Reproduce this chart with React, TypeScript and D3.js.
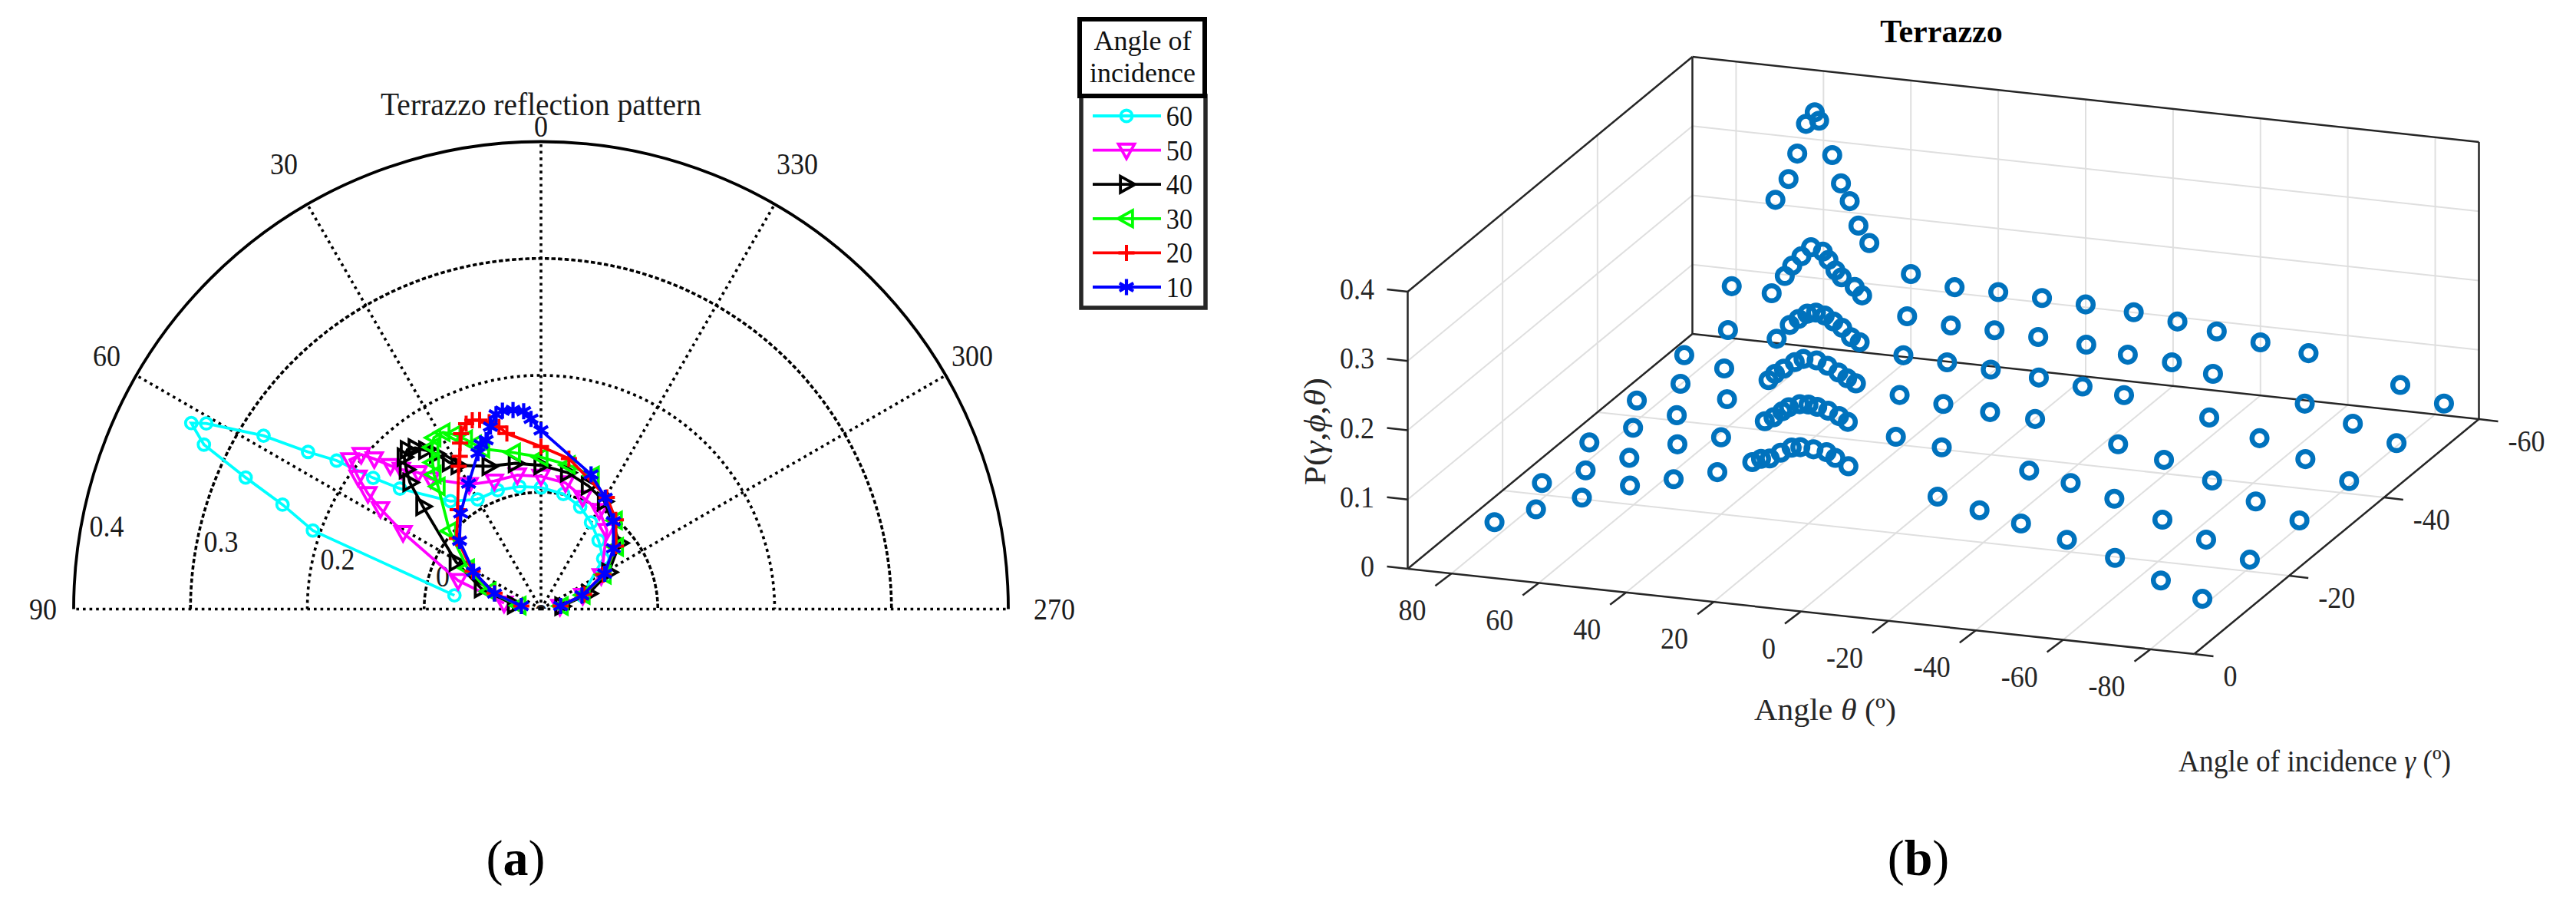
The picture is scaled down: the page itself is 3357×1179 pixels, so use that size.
import React from "react";
import * as d3 from "d3";

// ---- Data: reflection angle (deg) and P for each angle of incidence
const angles60 = [81,71,68,66,64,62,61,58,56,54,52,49.5,40,30,20,10,0,-11,-21,-30,-40,-51,-72,-82];
const values60 = [.075,.2065,.2386,.2767,.321,.339,.3276,.28,.2405,.2162,.1823,.1588,.1206,.1084,.1082,.1065,.104,.1003,.0937,.0856,.0767,.0685,.037,.017];
const angles50 = [81,71,61,58,56.3,54.2,52,49.3,48,46.4,45,42,40.3,30,20,10,0,-11,-20.5,-30.6,-40,-61,-72,-82];
const values50 = [.032,.075,.135,.162,.178,.193,.2075,.203,.192,.178,.169,.157,.146,.123,.1166,.1165,.1136,.11,.102,.098,.0878,.059,.0376,.0164];
const angles40 = [81,71,61,49,46,44,42,40,38,36,34,32,30,20,10,0,-11,-21,-30.5,-50,-61.5,-72,-82];
const values40 = [.023,.054,.083,.134,.156,.166,.175,.178,.175,.168,.16,.148,.142,.13,.1267,.123,.119,.113,.107,.088,.066,.043,.018];
const angles30 = [81,71,61,49.5,40,38.5,36.5,34,32,29,26.5,24,22,20,10,0,-10.7,-21,-40,-50.5,-61.5,-71.5,-81.5];
const values30 = [.019,.047,.072,.103,.137,.147,.156,.167,.173,.173,.167,.159,.152,.146,.136,.13,.1255,.1225,.099,.0837,.0615,.038,.0175];
const angles20 = [81,71,61,50,40,30,28,26,24.5,22,20,18,15.5,13,11,0,-10.5,-30.5,-40,-50,-61,-71,-81];
const values20 = [.017,.042,.067,.094,.111,.141,.148,.158,.165,.171,.172,.17,.166,.16,.153,.139,.131,.111,.0997,.0837,.061,.039,.017];
const angles10 = [81,71.5,61,50,40,30,22,20,18,15.5,13,11,8,5,3,0,-20.4,-30,-39.5,-50,-61,-71.5,-81];
const values10 = [.017,.042,.066,.091,.107,.124,.144,.15,.152,.162,.171,.173,.172,.17,.163,.153,.123,.11,.0974,.081,.0624,.037,.017];

const incidences = [60, 50, 40, 30, 20, 10];
const angleSets = [angles60, angles50, angles40, angles30, angles20, angles10];
const valueSets = [values60, values50, values40, values30, values20, values10];
const seriesColors = ["#00ffff", "#ff00ff", "#000000", "#00ff00", "#ff0000", "#0000ff"];
const seriesMarkers = ["circle", "down", "right", "left", "plus", "star"];

const ringValues = [0.1, 0.2, 0.3];
const spokeAngles = [0, 30, 60, 90, 270, 300, 330];
const polarAngleLabels = ["0", "30", "60", "90", "270", "300", "330"];
const thetaTicks = [80, 60, 40, 20, 0, -20, -40, -60, -80];
const gammaTicks = [0, -20, -40, -60];
const zTicks = [0, 0.1, 0.2, 0.3, 0.4];

const SERIF = "'Liberation Serif', serif";
const DARK = "#262626";
const GRID = "#dfdfdf";
const BLUE = "#0072bd";

// Condensed text: the reference's type is tall and narrow
function T({ x, y, anchor = "start", size = 40, sx = 0.9, fill = "#1a1a1a", children, ...rest }: any) {
  return (
    <text transform={`translate(${x},${y}) scale(${sx},1)`} textAnchor={anchor} fontFamily={SERIF} fontSize={size} fill={fill} {...rest}>
      {children}
    </text>
  );
}

// ---- Polar panel
const cx = 705, cy = 793.5;
const radius = d3.scaleLinear().domain([0, 0.4]).range([0, 609]);
const polarPt = (deg: number, v: number): [number, number] => {
  const [x, y] = d3.pointRadial((-deg * Math.PI) / 180, radius(v));
  return [cx + x, cy + y];
};
const polarLine = d3.lineRadial<[number, number]>()
  .angle((d) => (-d[0] * Math.PI) / 180)
  .radius((d) => radius(d[1]));

function Marker({ kind, x, y, color, r = 10.5 }: any) {
  const common = { fill: "none", stroke: color, strokeWidth: 3.8 };
  const t = `translate(${x},${y})`;
  if (kind === "circle") return <circle cx={x} cy={y} r={7.5} {...common} />;
  if (kind === "down") return <path transform={t} d={`M${-r},${-r * 0.75}L${r},${-r * 0.75}L0,${r * 1.05}Z`} {...common} />;
  if (kind === "right") return <path transform={t} d={`M${-r * 0.75},${-r}L${-r * 0.75},${r}L${r * 1.05},0Z`} {...common} />;
  if (kind === "left") return <path transform={t} d={`M${r * 0.75},${-r}L${r * 0.75},${r}L${-r * 1.05},0Z`} {...common} />;
  if (kind === "plus") return <path transform={t} d={`M${-r},0L${r},0M0,${-r}L0,${r}`} {...common} strokeWidth={4} />;
  const a = r * 0.87, b = r * 0.5;
  return <path transform={t} d={`M0,${-r}L0,${r}M${-a},${-b}L${a},${b}M${-a},${b}L${a},${-b}`} {...common} strokeWidth={4.2} />;
}

function PolarPanel() {
  const R = radius(0.4);
  const ringLabels: [string, number, number][] = [
    ["0.4", 139, 699], ["0.3", 288, 719], ["0.2", 440, 742], ["0", 577, 764],
  ];
  const labelPos: [number, number][] = [[705, 178], [370, 227], [139, 477], [56, 807], [1374, 807], [1267, 477], [1039, 227]];
  return (
    <g>
      <defs>
        <clipPath id="above"><rect x={650} y={770} width={110} height={23} /></clipPath>
      </defs>
      <g clipPath="url(#above)">
        <T x={705} y={814} anchor="middle">0</T>
      </g>
      <g transform={`translate(${cx},${cy})`}>
        {ringValues.map((v) => (
          <path key={v}
            d={d3.arc()({ innerRadius: radius(v), outerRadius: radius(v), startAngle: -Math.PI / 2, endAngle: Math.PI / 2 } as any) || ""}
            fill="none" stroke="#000" strokeWidth={3.6} strokeDasharray="3.6 5" />
        ))}
        {spokeAngles.map((a) => {
          const p = d3.pointRadial((-a * Math.PI) / 180, R);
          return <line key={a} x1={0} y1={0} x2={p[0]} y2={p[1]} stroke="#000" strokeWidth={3.6} strokeDasharray="3.6 5" />;
        })}
        <path d={d3.arc()({ innerRadius: R, outerRadius: R, startAngle: -Math.PI / 2, endAngle: Math.PI / 2 } as any) || ""}
          fill="none" stroke="#000" strokeWidth={3.8} />
      </g>
      {polarAngleLabels.map((t, i) => (
        <T key={t} x={labelPos[i][0]} y={labelPos[i][1]} anchor="middle">{t}</T>
      ))}
      {ringLabels.map(([t, x, y]) => (
        <T key={t} x={x} y={y} anchor="middle">{t}</T>
      ))}
      <T x={705} y={150} anchor="middle" size={42} sx={0.94}>Terrazzo reflection pattern</T>
      {incidences.map((inc, s) => {
        const pts = angleSets[s].map((a, i) => [a, valueSets[s][i]] as [number, number]);
        return (
          <g key={inc}>
            <path transform={`translate(${cx},${cy})`} d={polarLine(pts) || ""} fill="none" stroke={seriesColors[s]} strokeWidth={3.8} />
            {pts.map((d, i) => {
              const [x, y] = polarPt(d[0], d[1]);
              return <Marker key={i} kind={seriesMarkers[s]} x={x} y={y} color={seriesColors[s]} />;
            })}
          </g>
        );
      })}
    </g>
  );
}

function Legend() {
  const rowY = d3.scalePoint<number>().domain(incidences).range([151, 374]);
  return (
    <g fontFamily={SERIF}>
      <rect x={1409} y={125} width={162} height={276} fill="#fff" stroke={DARK} strokeWidth={5.5} />
      <rect x={1407} y={25} width={163} height={100} fill="#fff" stroke="#000" strokeWidth={6} />
      <text x={1489} y={65} textAnchor="middle" fontSize={36} fill="#111">Angle of</text>
      <text x={1489} y={107} textAnchor="middle" fontSize={36} fill="#111">incidence</text>
      {incidences.map((inc, s) => {
        const y = rowY(inc) as number;
        return (
          <g key={inc}>
            <line x1={1424} x2={1513} y1={y} y2={y} stroke={seriesColors[s]} strokeWidth={3.8} />
            <Marker kind={seriesMarkers[s]} x={1468} y={y} color={seriesColors[s]} />
            <T x={1554} y={y + 13} anchor="end" size={38} sx={0.9} fill="#111">{inc}</T>
          </g>
        );
      })}
    </g>
  );
}

// ---- 3-D panel: oblique projection built from linear scales
const thetaX = d3.scaleLinear().domain([90, -90]).range([1834.5, 2859.5]);
const thetaY = d3.scaleLinear().domain([90, -90]).range([741, 852]);
const gammaX = d3.scaleLinear().domain([0, -60]).range([0, 371]);
const gammaY = d3.scaleLinear().domain([0, -60]).range([0, -306]);
const zY = d3.scaleLinear().domain([0, 0.4]).range([0, -361]);
const proj = (t: number, g: number, z: number): [number, number] =>
  [thetaX(t) + gammaX(g), thetaY(t) + gammaY(g) + zY(z)];

function Seg({ a, b, stroke, w }: any) {
  return <line x1={a[0]} y1={a[1]} x2={b[0]} y2={b[1]} stroke={stroke} strokeWidth={w} />;
}

function Panel3D() {
  const gridTheta = thetaTicks;
  const gridGamma = [-20, -40];
  const zGrid = [0.1, 0.2, 0.3];
  return (
    <g fontFamily={SERIF} fill="#262626">
      {/* floor grid */}
      {gridTheta.map((t) => <Seg key={`f${t}`} a={proj(t, 0, 0)} b={proj(t, -60, 0)} stroke={GRID} w={2} />)}
      {gridGamma.map((g) => <Seg key={`fg${g}`} a={proj(90, g, 0)} b={proj(-90, g, 0)} stroke={GRID} w={2} />)}
      {/* back wall */}
      {gridTheta.map((t) => <Seg key={`b${t}`} a={proj(t, -60, 0)} b={proj(t, -60, 0.4)} stroke={GRID} w={2} />)}
      {zGrid.map((z) => <Seg key={`bz${z}`} a={proj(90, -60, z)} b={proj(-90, -60, z)} stroke={GRID} w={2} />)}
      {/* side wall */}
      {gridGamma.map((g) => <Seg key={`s${g}`} a={proj(90, g, 0)} b={proj(90, g, 0.4)} stroke={GRID} w={2} />)}
      {zGrid.map((z) => <Seg key={`sz${z}`} a={proj(90, 0, z)} b={proj(90, -60, z)} stroke={GRID} w={2} />)}
      {/* box */}
      {[
        [proj(90, 0, 0), proj(-90, 0, 0)],
        [proj(-90, 0, 0), proj(-90, -60, 0)],
        [proj(90, 0, 0), proj(90, -60, 0)],
        [proj(90, -60, 0), proj(-90, -60, 0)],
        [proj(90, 0, 0), proj(90, 0, 0.4)],
        [proj(90, -60, 0), proj(90, -60, 0.4)],
        [proj(-90, -60, 0), proj(-90, -60, 0.4)],
        [proj(90, 0, 0.4), proj(90, -60, 0.4)],
        [proj(90, -60, 0.4), proj(-90, -60, 0.4)],
      ].map(([a, b], i) => <Seg key={i} a={a} b={b} stroke={DARK} w={2.5} />)}
      {/* ticks */}
      {zTicks.map((z) => {
        const p = proj(90, 0, z);
        return (
          <g key={z}>
            <Seg a={p} b={[p[0] - 27, p[1] - 3]} stroke={DARK} w={2.5} />
            <T x={1791} y={p[1] + 10} anchor="end" fill={DARK}>{z}</T>
          </g>
        );
      })}
      {thetaTicks.map((t) => {
        const p = proj(t, 0, 0);
        return (
          <g key={t}>
            <Seg a={p} b={[p[0] - 21, p[1] + 16]} stroke={DARK} w={2.5} />
            <T x={p[0] - 33} y={p[1] + 61} anchor="end" fill={DARK}>{t}</T>
          </g>
        );
      })}
      {gammaTicks.map((g) => {
        const p = proj(-90, g, 0);
        return (
          <g key={g}>
            <Seg a={p} b={[p[0] + 25, p[1] + 3]} stroke={DARK} w={2.5} />
            <T x={p[0] + 38} y={p[1] + 42} fill={DARK}>{g}</T>
          </g>
        );
      })}
      {/* points */}
      {incidences.map((inc, s) =>
        angleSets[s].map((a, i) => {
          const [x, y] = proj(a, -inc, valueSets[s][i]);
          return <circle key={`${inc}-${i}`} cx={x} cy={y} r={9.8} fill="none" stroke={BLUE} strokeWidth={6.5} />;
        })
      )}
      <text x={2530} y={55} textAnchor="middle" fontSize={42} fontWeight="bold" fill="#000">Terrazzo</text>
      <text x={2286} y={938} fontSize={41} textLength={185} lengthAdjust="spacingAndGlyphs">Angle <tspan fontStyle="italic">θ</tspan> (º)</text>
      <text x={2839} y={1005} fontSize={41} textLength={355} lengthAdjust="spacingAndGlyphs">Angle of incidence <tspan fontStyle="italic">γ</tspan> (º)</text>
      <text transform="translate(1727,632) rotate(-90)" fontSize={41} textLength={140} lengthAdjust="spacingAndGlyphs">P(<tspan fontStyle="italic">γ</tspan>,<tspan fontStyle="italic">ϕ</tspan>,<tspan fontStyle="italic">θ</tspan>)</text>
    </g>
  );
}

export default function App() {
  return (
    <svg width={3357} height={1179} viewBox="0 0 3357 1179"
      style={{ position: "absolute", left: 0, top: 0, background: "#fff" }}>
      <PolarPanel />
      <Legend />
      <Panel3D />
      <text x={672} y={1140} textAnchor="middle" fontFamily={SERIF} fontSize={66} fill="#000">(<tspan fontWeight="bold">a</tspan>)</text>
      <text x={2500} y={1140} textAnchor="middle" fontFamily={SERIF} fontSize={66} fill="#000">(<tspan fontWeight="bold">b</tspan>)</text>
    </svg>
  );
}
